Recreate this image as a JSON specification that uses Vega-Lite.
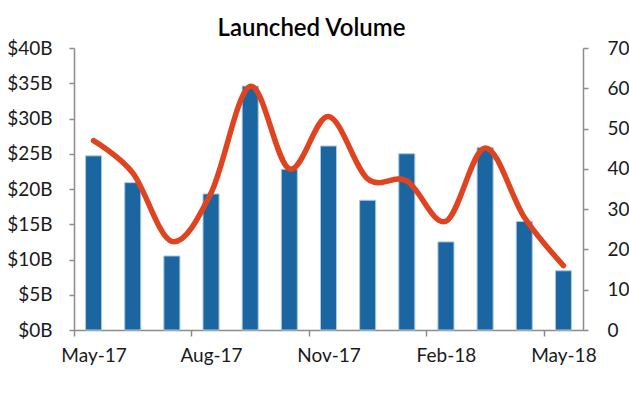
{
  "$schema": "https://vega.github.io/schema/vega-lite/v6.json",
  "autosize": "none",
  "width": 509,
  "height": 282,
  "padding": {"left": 74, "top": 48, "right": 46, "bottom": 63},
  "background": "white",
  "config": {
    "view": {"stroke": null},
    "font": "Lato",
    "axis": {"labelFont": "Lato", "labelFontSize": 19, "labelColor": "#1a1a1a", "domainColor": "#8c8c8c", "tickColor": "#8c8c8c", "domainWidth": 1.5, "tickWidth": 1.5, "grid": false, "title": null}
  },
  "title": {"text": "Launched Volume", "font": "Lato", "fontSize": 24, "fontWeight": 600, "color": "#000000", "anchor": "middle", "dx": -17, "offset": 0, "dy": 2},
  "data": {"values": [
    {"month": "May-17", "volume": 24.7, "count": 47},
    {"month": "Jun-17", "volume": 20.9, "count": 39},
    {"month": "Jul-17", "volume": 10.5, "count": 22},
    {"month": "Aug-17", "volume": 19.3, "count": 34},
    {"month": "Sep-17", "volume": 34.6, "count": 60.5},
    {"month": "Oct-17", "volume": 22.8, "count": 40},
    {"month": "Nov-17", "volume": 26.1, "count": 53},
    {"month": "Dec-17", "volume": 18.4, "count": 37.5},
    {"month": "Jan-18", "volume": 25.0, "count": 37},
    {"month": "Feb-18", "volume": 12.5, "count": 27},
    {"month": "Mar-18", "volume": 25.9, "count": 45.2},
    {"month": "Apr-18", "volume": 15.4, "count": 28},
    {"month": "May-18", "volume": 8.4, "count": 16}
  ]},
  "encoding": {
    "x": {
      "field": "month", "type": "ordinal", "sort": null,
      "scale": {"paddingInner": 0.59, "paddingOuter": 0.295},
      "axis": {"values": ["May-17", "Aug-17", "Nov-17", "Feb-18", "May-18"], "labelAngle": 0, "tickSize": 6, "tickOffset": -19.6, "labelOffset": 19.6, "labelPadding": 10}
    }
  },
  "layer": [
    {
      "mark": {"type": "bar", "color": "#1B66A0", "stroke": "#a9c9e4", "strokeWidth": 1},
      "encoding": {
        "y": {"field": "volume", "type": "quantitative", "scale": {"domain": [0, 40]},
          "axis": {"values": [0, 5, 10, 15, 20, 25, 30, 35, 40], "labelExpr": "'$' + datum.value + 'B'", "tickSize": 5, "labelPadding": 17}}
      }
    },
    {
      "mark": {"type": "line", "color": "#E0431F", "strokeWidth": 5.5, "interpolate": "cardinal", "strokeCap": "round"},
      "encoding": {
        "y": {"field": "count", "type": "quantitative", "scale": {"domain": [0, 70]},
          "axis": {"orient": "right", "values": [0, 10, 20, 30, 40, 50, 60, 70], "tickSize": 5, "labelPadding": 19}}
      }
    }
  ],
  "resolve": {"scale": {"y": "independent"}}
}
